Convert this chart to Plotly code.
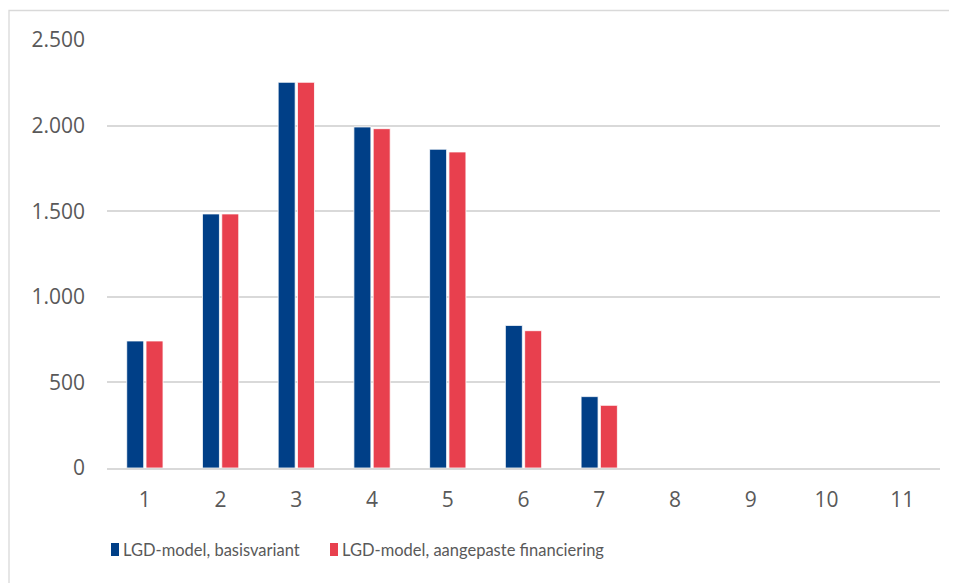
import plotly.graph_objects as go

categories = [str(i) for i in range(1, 12)]
basis = [742, 1484, 2253, 1992, 1862, 833, 417, 0, 0, 0, 0]
aangepast = [742, 1484, 2253, 1982, 1846, 802, 366, 0, 0, 0, 0]
series_names = ["LGD-model, basisvariant", "LGD-model, aangepaste financiering"]
colors = ["#003F87", "#E8404E"]
y_ticks = [0, 500, 1000, 1500, 2000, 2500]

OFF = 8  # page body margin
W, H = 957 - OFF, 583 - OFF
# reference pixel coordinates of plot area
RL, RR, RT, RB = 107, 940, 40, 468
L, T = RL - OFF, RT - OFF
R = W - (RR - OFF)
B = H - (RB - OFF)
pw, ph = W - L - R, H - T - B

def px_x(x):
    return (x - OFF - L) / pw

def px_y(y):
    return (H - B - (y - OFF)) / ph

TICKFONT = "Open Sans"
LEGFONT = "Lato"
fig = go.Figure()
for name, vals, col in zip(series_names, [basis, aangepast], colors):
    fig.add_trace(go.Bar(x=categories, y=vals, name=name, marker=dict(color=col, line=dict(color="white", width=0.8)),
                         showlegend=False))

shapes = [dict(type="rect", xref="paper", yref="paper", x0=px_x(9), x1=px_x(W + 40), y0=px_y(H + 40), y1=px_y(10.5),
               line=dict(color="#D9D9D9", width=1.3), fillcolor="rgba(0,0,0,0)", layer="below")]
annotations = []
leg_x = [111, 330]
for i, (name, col) in enumerate(zip(series_names, colors)):
    shapes.append(dict(type="rect", xref="paper", yref="paper", x0=px_x(leg_x[i]), x1=px_x(leg_x[i] + 8),
                       y0=px_y(556), y1=px_y(543), fillcolor=col, line=dict(width=0)))
    annotations.append(dict(text=name, xref="paper", yref="paper", x=px_x(leg_x[i] + 10), y=px_y(550),
                            xanchor="left", yanchor="middle", showarrow=False,
                            font=dict(family=LEGFONT, size=16.5, color="#595959")))

fig.update_layout(
    width=W, height=H,
    margin=dict(l=L, r=R, t=T, b=B),
    paper_bgcolor="white", plot_bgcolor="white",
    barmode="group", bargap=0.49, bargroupgap=0.12,
    separators=",.",
    font=dict(family=TICKFONT, size=21, color="#595959"),
    shapes=shapes, annotations=annotations,
    xaxis=dict(showgrid=False, showline=True, linecolor="#D9D9D9", linewidth=1.5, ticks="",
               ticklabelstandoff=12, tickfont=dict(size=21, color="#595959")),
    yaxis=dict(range=[0, 2500], tickvals=y_ticks, tickformat=",d", showgrid=True, gridcolor="#D9D9D9",
               gridwidth=1.5, zeroline=False, showline=False, ticks="", ticklabelstandoff=21,
               tickfont=dict(size=21, color="#595959")),
)
fig.write_html("out.html")
